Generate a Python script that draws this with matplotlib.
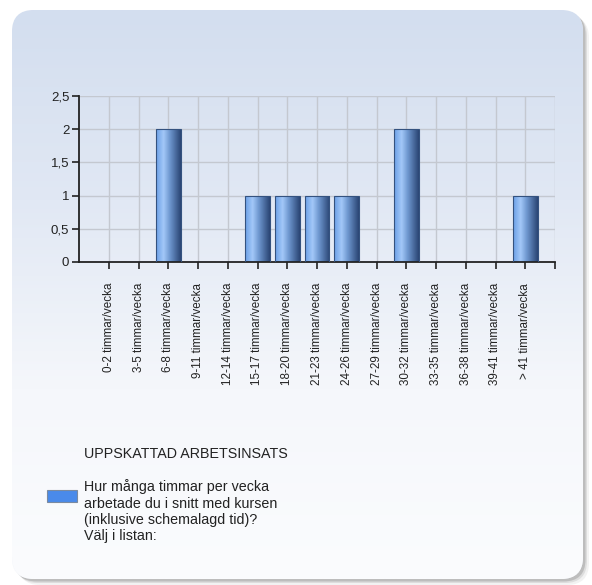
import numpy as np
import matplotlib
matplotlib.use("Agg")
import matplotlib.pyplot as plt
from matplotlib.patches import FancyBboxPatch, Rectangle
from matplotlib.colors import LinearSegmentedColormap

plt.rcParams['font.family'] = ['Liberation Sans', 'DejaVu Sans']

categories = ["0-2 timmar/vecka", "3-5 timmar/vecka", "6-8 timmar/vecka",
              "9-11 timmar/vecka", "12-14 timmar/vecka", "15-17 timmar/vecka",
              "18-20 timmar/vecka", "21-23 timmar/vecka", "24-26 timmar/vecka",
              "27-29 timmar/vecka", "30-32 timmar/vecka", "33-35 timmar/vecka",
              "36-38 timmar/vecka", "39-41 timmar/vecka", "> 41 timmar/vecka"]
counts = [0, 0, 2, 0, 0, 1, 1, 1, 1, 0, 2, 0, 0, 0, 1]
yticks = [0, 0.5, 1, 1.5, 2, 2.5]
ytick_labels = ["0", "0,5", "1", "1,5", "2", "2,5"]
chart_title = "UPPSKATTAD ARBETSINSATS"
series_name = ("Hur många timmar per vecka\narbetade du i snitt med kursen\n"
               "(inklusive schemalagd tid)?\nVälj i listan:")

W, H = 592, 585
fig = plt.figure(figsize=(W / 100, H / 100), dpi=100)
fig.patch.set_facecolor("white")

# background panel with drop shadow and vertical gradient
bg = fig.add_axes([0, 0, 1, 1], zorder=-10)
bg.axis("off")
for off, a in [(6, 0.08), (4, 0.14), (2.5, 0.25)]:
    sh = FancyBboxPatch((12 + off, 10 + off), 571, 569,
                        boxstyle="round,pad=0,rounding_size=22",
                        facecolor="#606060", edgecolor="none", alpha=a, zorder=1)
    bg.add_patch(sh)
panel = FancyBboxPatch((12, 10), 571, 569, boxstyle="round,pad=0,rounding_size=22",
                       facecolor="#eef2f9", edgecolor="none", zorder=2)
bg.add_patch(panel)
grad_cmap = LinearSegmentedColormap.from_list(
    "panel", ["#d3deef", "#e1e8f4", "#f5f7fb", "#fbfcfe"])
g = np.linspace(0, 1, 256).reshape(-1, 1)
im = bg.imshow(g, cmap=grad_cmap, extent=[12, 583, 579, 10], aspect="auto",
               zorder=3, interpolation="bilinear")
im.set_clip_path(panel)
bg.set_xlim(0, W)
bg.set_ylim(H, 0)

# main bar chart
ax = fig.add_axes([79 / W, (H - 262) / H, 476 / W, 166 / H])
ax.patch.set_alpha(0)
x = np.arange(len(categories))
bars = ax.bar(x, counts, width=0.83, facecolor="none",
              edgecolor="#34527f", linewidth=0.8, zorder=3)

bar_cmap = LinearSegmentedColormap.from_list(
    "bar", [(0, "#6b9fe6"), (0.3, "#a3c8f8"), (0.55, "#6f98d0"),
            (1, "#2b4675")])
gx = np.linspace(0, 1, 64).reshape(1, -1)
for b in bars:
    if b.get_height() <= 0:
        continue
    x0, w, h = b.get_x(), b.get_width(), b.get_height()
    bim = ax.imshow(gx, cmap=bar_cmap, extent=[x0, x0 + w, 0, h],
                    aspect="auto", zorder=2, interpolation="bilinear")
    bim.set_clip_path(b)

ax.set_xlim(-1, len(categories))
ax.set_ylim(0, 2.5)
ax.set_xticks(x)
ax.set_xticklabels(categories, rotation=90, fontsize=8.4, color="#222222")
ax.set_xticks([len(categories)], minor=True)
ax.set_yticks(yticks)
ax.set_yticklabels(ytick_labels, fontsize=9.5, color="#222222")
ax.tick_params(axis="x", which="both", direction="out", length=5, width=1.2,
               color="#222222", pad=10)
ax.tick_params(axis="y", direction="out", length=5, width=1.2,
               color="#222222", pad=2)
ax.grid(True, which="both", color="#c4c8d0", linewidth=1, zorder=0)
ax.set_axisbelow(True)
for s in ["top", "right"]:
    ax.spines[s].set_visible(False)
for s in ["left", "bottom"]:
    ax.spines[s].set_color("#222222")
    ax.spines[s].set_linewidth(1.3)

# legend block
fig.text(84 / W, 1 - 454 / H, chart_title, fontsize=10.3, color="#222222",
         va="center", ha="left")
fig.patches.append(Rectangle((47 / W, 1 - 502 / H), 30 / W, 12 / H,
                             transform=fig.transFigure, facecolor="#4a8aea",
                             edgecolor="#7a8aa0", linewidth=0.8))
fig.text(84 / W, 1 - 479.5 / H, series_name, fontsize=10.3, color="#222222",
         va="top", ha="left", linespacing=1.2)

fig.savefig("out.png", dpi=100)
